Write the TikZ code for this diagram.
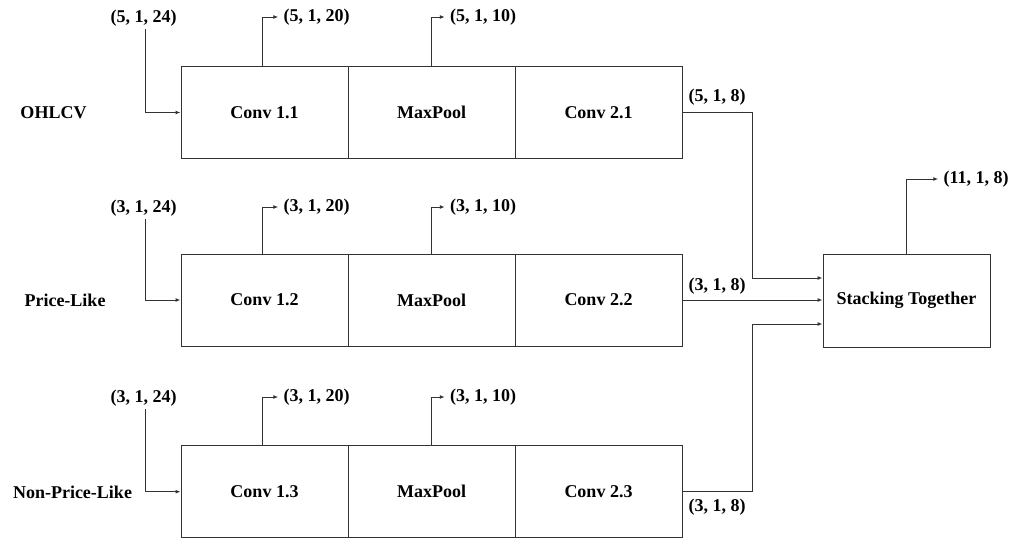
\documentclass[tikz,border=0pt]{standalone}
\usepackage{fontspec}
\setmainfont{Liberation Serif}
\usetikzlibrary{arrows.meta,calc}
\begin{document}
\begin{tikzpicture}[x=1pt,y=-1pt,
  font=\fontsize{18}{21}\selectfont\bfseries,
  cell/.style={draw=black!80,line width=1pt,minimum width=167pt,minimum height=92pt,inner sep=0pt},
  lbl/.style={inner sep=3pt},
  arr/.style={draw=black!80,line width=1pt,-{Latex[length=5pt,width=4pt]}},
  ln/.style={draw=black!80,line width=1pt}]
\useasboundingbox (0,0) rectangle (1017,544);
% rows
\foreach \r/\y/\a/\b in {1/112.5/Conv 1.1/Conv 2.1, 2/300/Conv 1.2/Conv 2.2, 3/491.7/Conv 1.3/Conv 2.3}{
  \node[cell] (c1\r) at (264.5,\y) {\a};
  \node[cell] (mp\r) at (431.5,\y) {MaxPool};
  \node[cell] (c2\r) at (598.5,\y) {\b};
}
\node[cell,minimum height=93pt] (st) at (906.5,300.5) {Stacking Together};
% left labels
\node[lbl] (n1) at (53.5,113) {OHLCV};
\node[lbl] (n2) at (65,300) {Price-Like};
\node[lbl] (n3) at (72.5,492.5) {Non-Price-Like};
% inputs
\node[lbl] (i1) at (143.5,18) {(5, 1, 24)};
\node[lbl] (i2) at (143.5,208) {(3, 1, 24)};
\node[lbl] (i3) at (143.5,398) {(3, 1, 24)};
% conv1 outputs
\node[lbl,inner sep=5pt] (a1) at (316.5,17) {(5, 1, 20)};
\node[lbl,inner sep=5pt] (a2) at (316.5,207) {(3, 1, 20)};
\node[lbl,inner sep=5pt] (a3) at (316.5,397) {(3, 1, 20)};
% maxpool outputs
\node[lbl,inner sep=5pt] (b1) at (483,17) {(5, 1, 10)};
\node[lbl,inner sep=5pt] (b2) at (483,207) {(3, 1, 10)};
\node[lbl,inner sep=5pt] (b3) at (483,397) {(3, 1, 10)};
% conv2 outputs labels
\node[lbl] (d1) at (717,97) {(5, 1, 8)};
\node[lbl] (d2) at (717,286) {(3, 1, 8)};
\node[lbl] (d3) at (717,507) {(3, 1, 8)};
\node[lbl,inner sep=5pt] (o) at (976,179) {(11, 1, 8)};
% connectors
\foreach \r in {1,2,3}{
  \draw[arr] ([xshift=1.5pt]i\r.south) |- (c1\r.west);
  \draw[arr] ([xshift=-2.5pt]c1\r.north) |- (a\r.west);
  \draw[arr] (mp\r.north) |- (b\r.west);
}
\coordinate (j1) at (752,278);
\coordinate (j3) at (752,324);
\draw[arr] (c21.east) -| (j1) -- (j1 -| st.west);
\draw[arr] (c22.east) -- (c22.east -| st.west);
\draw[arr] (c23.east) -| (j3) -- (j3 -| st.west);
\draw[arr] (st.north) |- (o.west);
\end{tikzpicture}
\end{document}
